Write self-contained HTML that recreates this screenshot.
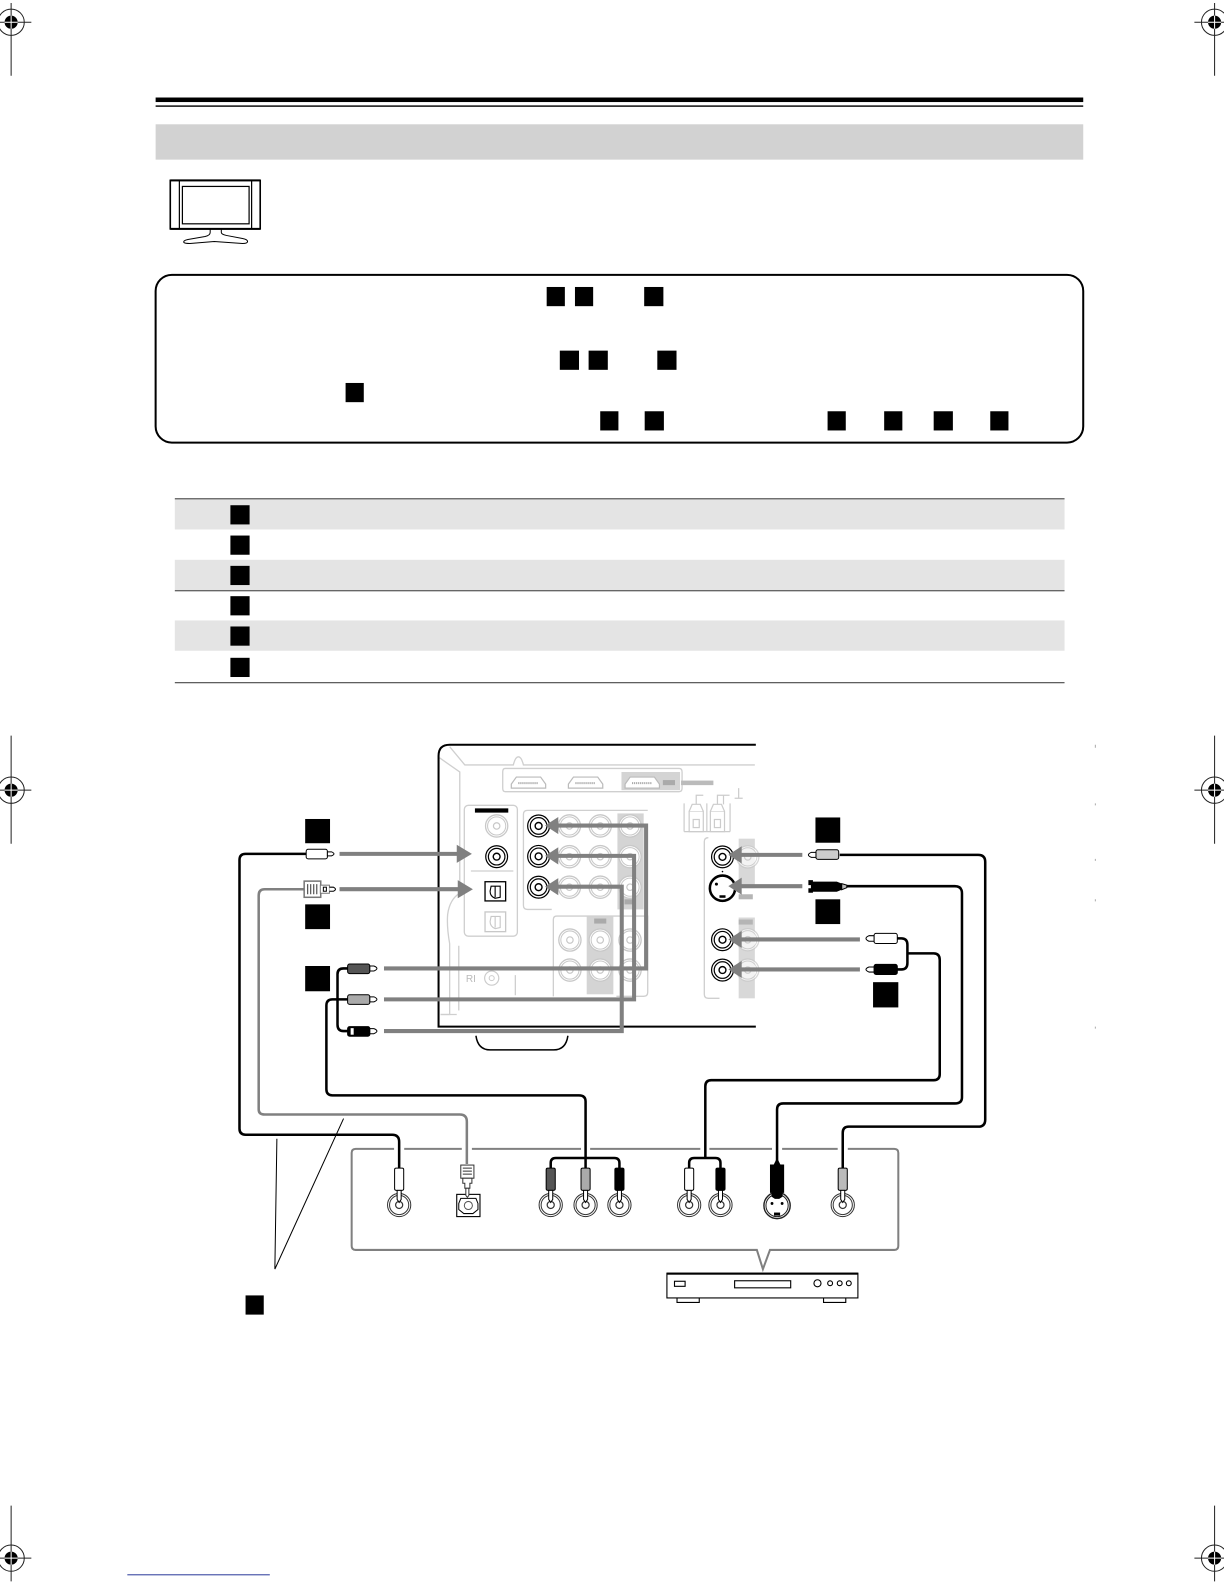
<!DOCTYPE html>
<html><head><meta charset="utf-8"><style>html,body{margin:0;padding:0;background:#fff}svg{display:block}</style></head><body>
<svg xmlns="http://www.w3.org/2000/svg" xmlns:xlink="http://www.w3.org/1999/xlink" width="1224" height="1584" viewBox="0 0 1211.3 1567.6">
<defs>
<g id="crop" fill="none" stroke="#222" stroke-width="1"><circle r="13"/><circle r="6.5" fill="#000" stroke="none"/><path d="M-20,0H20"/><path d="M-6.5,0H6.5M0,-6.5V6.5" stroke="#fff" stroke-width="1"/></g>
<g id="jk" fill="#fff" stroke="#000"><circle r="10.8" stroke-width="1.2"/><circle r="8.2" stroke-width="1.2"/><circle r="3.4" stroke-width="1.4"/></g>
<g id="jl" fill="#fff" stroke="#c8c8c8"><circle r="11" stroke-width="1.3"/><circle r="9" stroke-width="1"/><circle r="3.2" stroke-width="1.2"/></g>
<g id="jb" fill="#fff" stroke="#333"><circle r="11.5" stroke-width="1"/><circle r="9.5" stroke-width="1"/><circle r="3.5" stroke-width="1.2"/></g>
<g id="hd" fill="#fff" stroke="#bbb" stroke-width="1.2"><path d="M0,11V7L5,0H29L34,7V11Z"/><path d="M7,6H27" stroke="#999" stroke-width="2" stroke-dasharray="1 1"/></g>
</defs>

<!-- crop marks -->
<g stroke="#222" stroke-width="1">
<path d="M11,3V75M11,728V835M11,1490V1565M1202,3V75M1202,728V835M1202,1490V1565"/>
</g>
<use xlink:href="#crop" x="11" y="22"/><use xlink:href="#crop" x="1202" y="22"/>
<use xlink:href="#crop" x="11" y="782"/><use xlink:href="#crop" x="1202" y="782"/>
<use xlink:href="#crop" x="11" y="1542"/><use xlink:href="#crop" x="1202" y="1542"/>
<rect x="126" y="1558" width="141" height="1" fill="#2a3a9a"/>
<path d="M1084,737v3M1084,795v2M1084,850v2M1084,890v2M1084,1016v2" stroke="#aaa" stroke-width="1"/>

<!-- header -->
<rect x="154" y="96.5" width="918" height="4.5" fill="#000"/>
<rect x="154" y="104.3" width="918" height="1.4" fill="#000"/>
<rect x="154" y="123" width="918" height="35" fill="#d2d2d2"/>

<!-- TV -->
<g fill="none" stroke="#000">
<rect x="168.5" y="178.5" width="89" height="48" stroke-width="1.6"/>
<path d="M177.5,178.5V226.5M249,178.5V226.5" stroke-width="1.2"/>
<rect x="180.5" y="184.5" width="66" height="37" stroke-width="1.2"/>
<path d="M208,227V230Q208,233 203,234L186,237Q181,238 182,240Q183,241 188,241L212,239L240,241Q245,241 245,239Q245,237 240,236L224,233Q219,232 219,230V227" stroke-width="1"/>
<path d="M168.5,178.5H257.5M168.5,226.5H257.5" stroke-width="2"/>
</g>

<!-- rounded note -->
<rect x="154" y="272" width="918" height="166" rx="16" fill="#fff" stroke="#000" stroke-width="2"/>
<g fill="#000">
<rect x="541" y="284" width="18" height="19"/><rect x="569" y="284" width="18" height="19"/><rect x="637.5" y="284" width="19" height="19"/>
<rect x="554" y="347" width="19" height="19"/><rect x="582.5" y="347" width="19" height="19"/><rect x="650.5" y="347" width="19" height="19"/>
<rect x="342" y="379" width="18" height="19"/>
<rect x="594" y="407" width="18" height="19"/><rect x="638" y="407" width="19" height="19"/><rect x="819" y="407" width="18" height="19"/><rect x="875" y="407" width="18" height="19"/><rect x="924" y="407" width="19" height="19"/><rect x="980" y="407" width="18" height="19"/>
</g>

<!-- table -->
<rect x="173" y="494" width="880.5" height="30" fill="#e4e4e4"/>
<rect x="173" y="554" width="880.5" height="30" fill="#e4e4e4"/>
<rect x="173" y="614" width="880.5" height="30" fill="#e4e4e4"/>
<rect x="173" y="493" width="880.5" height="1.2" fill="#555"/>
<rect x="173" y="584" width="880.5" height="1.2" fill="#555"/>
<rect x="173" y="675" width="880.5" height="1.2" fill="#555"/>
<g fill="#000">
<rect x="228" y="500" width="19" height="19"/><rect x="228" y="530" width="19" height="19"/><rect x="228" y="560" width="19" height="19"/><rect x="228" y="590" width="19" height="19"/><rect x="228" y="620" width="19" height="19"/><rect x="228" y="651" width="19" height="19"/>
</g>

<!-- receiver light details -->
<g fill="none" stroke="#cfcfcf" stroke-width="1.3">
<path d="M445,739L460,757H508Q510,749 513,749Q516,749 518,757H747"/>
<path d="M435,750L455,764V884Q445,890 443,905Q442,917 445,934V1004H436"/>
<path d="M500,760.5H672Q675,760.5 675,764V780Q675,783.5 672,783.5H500Q497.5,783.5 497.5,780V764Q497.5,760.5 500,760.5Z"/>
<rect x="459.5" y="797" width="52.5" height="129.5" rx="4"/>
<path d="M466,862H508"/>
<path d="M641,802H522Q518,802 518,806V896Q518,900 522,900H546"/>
<path d="M547.6,986V910Q547.6,906.6 551,906.6H641"/>
<path d="M641,906V982Q641,986 637,986H610"/>
<path d="M701,829Q697,829 697,833V984Q697,988 701,988H712"/>
<path d="M454,936V1000M510,965V985M436,1004H452"/>
</g>
<rect x="615" y="764" width="58" height="18" fill="#d4d4d4"/>
<rect x="656" y="772" width="12" height="5" fill="#aaa"/>
<rect x="674" y="772.5" width="32" height="4.5" fill="#bbb"/>
<use xlink:href="#hd" x="506" y="769"/><use xlink:href="#hd" x="562.5" y="769"/><use xlink:href="#hd" x="618.6" y="769"/>
<rect x="611" y="805" width="26" height="95" fill="#d4d4d4"/>
<rect x="580.6" y="907" width="26.4" height="77" fill="#d4d4d4"/>
<rect x="731" y="830" width="16" height="49" fill="#d8d8d8"/><rect x="731" y="908" width="16" height="80" fill="#d8d8d8"/>
<rect x="731" y="885" width="14" height="5" fill="#b5b5b5"/><rect x="731" y="910" width="14" height="5" fill="#b5b5b5"/>
<rect x="588" y="909" width="12" height="5" fill="#aaa"/><rect x="618" y="890" width="8" height="5" fill="#aaa"/>
<use xlink:href="#jl" x="491.5" y="817.4"/>
<use xlink:href="#jl" x="563.5" y="817.4"/><use xlink:href="#jl" x="594" y="817.4"/><use xlink:href="#jl" x="623.5" y="817.4"/>
<use xlink:href="#jl" x="563.5" y="847.8"/><use xlink:href="#jl" x="594" y="847.8"/><use xlink:href="#jl" x="623.5" y="847.8"/>
<use xlink:href="#jl" x="563.5" y="878"/><use xlink:href="#jl" x="594" y="878"/><use xlink:href="#jl" x="623.5" y="878"/>
<use xlink:href="#jl" x="564" y="930.3"/><use xlink:href="#jl" x="594" y="930.3"/><use xlink:href="#jl" x="623.5" y="930.3"/>
<use xlink:href="#jl" x="564" y="960"/><use xlink:href="#jl" x="594" y="960"/><use xlink:href="#jl" x="623.5" y="960"/>
<circle cx="486.6" cy="968" r="7" fill="#fff" stroke="#ccc" stroke-width="1.2"/><circle cx="486.6" cy="968" r="2.5" fill="#fff" stroke="#ccc"/>
<use xlink:href="#jl" x="740" y="848" opacity=".7"/><use xlink:href="#jl" x="740" y="930" opacity=".7"/><use xlink:href="#jl" x="740" y="960" opacity=".7"/>
<text x="461" y="972" font-family="Liberation Sans, sans-serif" font-size="10" fill="#bbb">RI</text>
<!-- speaker terminals -->
<g fill="#fff" stroke="#ccc" stroke-width="1.2">
<path d="M677,823V795M699.5,823V795M722.5,823V795M677,823H722.5" fill="none"/>
<rect x="682" y="803" width="14" height="20"/><rect x="703" y="803" width="14" height="20"/>
<path d="M682,803L685,796H693L696,803M703,803L706,796H714L717,803" />
<rect x="686" y="811" width="6" height="8"/><rect x="707" y="811" width="6" height="8"/>
<path d="M689,796V787H696M710,796V787H722M716,787V796M731,780V790M727,790H735" fill="none"/>
</g>
<!-- optical -->
<rect x="480" y="872.6" width="20.4" height="19" fill="#fff" stroke="#000" stroke-width="1.3"/>
<path d="M486,877H495V888L490,889Q485,887 485,882Z M490,877V888" fill="none" stroke="#000" stroke-width="1.1"/>
<rect x="480" y="902.5" width="20.4" height="19.5" fill="#fff" stroke="#c8c8c8" stroke-width="1.3"/>
<path d="M486,907H495V918L490,919Q485,917 485,912Z M490,907V918" fill="none" stroke="#c8c8c8" stroke-width="1.1"/>
<rect x="470" y="800" width="33" height="4.2" fill="#000"/>
<!-- black jacks -->
<use xlink:href="#jk" x="491.5" y="847.8"/>
<use xlink:href="#jk" x="533" y="817.4"/><use xlink:href="#jk" x="533" y="847.5"/><use xlink:href="#jk" x="533" y="878"/>
<use xlink:href="#jk" x="715" y="848"/><use xlink:href="#jk" x="715" y="930"/><use xlink:href="#jk" x="715" y="960"/>
<g><circle cx="715" cy="879" r="12.5" fill="#fff" stroke="#000" stroke-width="2.5"/><circle cx="709" cy="875" r="1.5" fill="#000"/><rect x="712" y="886" width="6" height="2.5" fill="#000"/><circle cx="715" cy="862.5" r=".8" fill="#000"/></g>

<!-- receiver outline -->
<path d="M748,737H445Q434,737 434,748V1016H748" fill="none" stroke="#000" stroke-width="2"/>
<path d="M471,1025Q473,1039 485,1039H548Q560,1039 562,1025" fill="none" stroke="#000" stroke-width="1.5"/>

<!-- grey arrows -->
<g fill="none" stroke="#808080" stroke-width="4">
<path d="M336,845H454"/><path d="M336,880H454"/>
<path d="M380,958.4H639.4V817H550"/>
<path d="M380,989H627.5V847H550"/>
<path d="M380,1020.4H615.3V877.5H550"/>
<path d="M794,846H732"/><path d="M794,877H732"/><path d="M851,929.7H732"/><path d="M851,959.4H732"/>
</g>
<g fill="#808080">
<path d="M467,845L452,836V854Z"/><path d="M468,880L453,871V889Z"/>
<path d="M539.4,817L552.5,808.5V825.5Z"/><path d="M539.4,847L552.5,838.5V855.5Z"/><path d="M539.4,877.5L552.5,869V886Z"/>
<path d="M720.8,846L734,837.5V854.5Z"/><path d="M720.8,877L734,868.5V885.5Z"/><path d="M720.8,929.7L734,921.2V938.2Z"/><path d="M720.8,959.4L734,950.9V967.9Z"/>
</g>

<!-- squares diagram -->
<g fill="#000">
<rect x="302" y="810.5" width="24.6" height="24"/><rect x="302" y="895" width="24.6" height="24.5"/><rect x="302" y="956" width="24.6" height="25"/>
<rect x="807" y="809" width="24.5" height="25"/><rect x="807" y="890" width="24.5" height="24.5"/><rect x="864" y="972" width="25" height="25"/>
<rect x="243" y="1282" width="18" height="19"/>
</g>

<!-- device panel -->
<path d="M352,1137H885Q889,1137 889,1141V1233Q889,1237 885,1237H762L755,1256L749,1237H352Q348,1237 348,1233V1141Q348,1137 352,1137Z" fill="#fff" stroke="#808080" stroke-width="2"/>

<!-- halos at panel line -->
<g fill="#fff"><rect x="390" y="1134" width="10" height="6"/><rect x="457" y="1134" width="10" height="6"/><rect x="575" y="1134" width="9" height="6"/><rect x="693" y="1134" width="9" height="6"/><rect x="764" y="1134" width="10" height="6"/><rect x="829" y="1134" width="10" height="6"/></g>

<!-- cables -->
<g fill="none" stroke="#000" stroke-width="2.5">
<path d="M303,845H243Q237,845 237,851V1117Q237,1123 243,1123H388Q395,1123 395,1130V1156"/>
<path d="M344,958.4H340Q334,958.4 334,964V1014Q334,1020.4 340,1020.4H344"/>
<path d="M344,989H329Q323,989 323,995V1078Q323,1084 329,1084H573Q579.5,1084 579.5,1090V1156"/>
<path d="M831,846H968Q975,846 975,853V1108Q975,1115 968,1115H840Q834,1115 834,1121V1156"/>
<path d="M838,877H945Q952,877 952,884V1086Q952,1092 945,1092H775Q769,1092 769,1098V1150"/>
<path d="M888,928.7H892Q898,928.7 898,935V953Q898,959.4 892,959.4H888M898,943.5H924Q930,943.5 930,950V1063Q930,1069 924,1069H704Q698,1069 698,1075V1146"/>
<path d="M545,1156V1151Q545,1146 550,1146H608Q613,1146 613,1151V1156"/>
<path d="M682,1156V1151Q682,1146 687,1146H708Q713,1146 713,1151V1156"/>
</g>
<path d="M301,880H262Q256,880 256,886V1098Q256,1103 262,1103H455Q462,1103 462,1110V1152" fill="none" stroke="#808080" stroke-width="2.5"/>

<!-- leader -->
<path d="M274,1127L272,1256M340,1107L272,1256" fill="none" stroke="#000" stroke-width="1"/>

<!-- left plugs -->
<g stroke="#000" stroke-width="1">
<rect x="303" y="840.5" width="21" height="9.5" rx="2" fill="#fff"/><path d="M324,843H328Q333,845 328,847H324Z" fill="#fff"/>
<g fill="#fff" stroke="#777"><rect x="301" y="872" width="16.4" height="16" stroke-width="1.5"/><path d="M304.5,875V885M307.5,875V885M310.5,875V885M313.5,875V885" stroke="#333"/><rect x="317" y="876" width="9" height="8"/><rect x="320" y="878" width="3" height="4" stroke="#000"/><path d="M326,878H330Q334,880 330,882H326" stroke="#000"/></g>
<rect x="344" y="954" width="22" height="9.5" rx="2" fill="#555"/><path d="M366,956H370Q376,958.4 370,961H366Z" fill="#fff"/>
<rect x="344" y="984.5" width="22" height="9.5" rx="2" fill="#aaa"/><path d="M366,986.5H370Q376,989 370,991.5H366Z" fill="#fff"/>
<rect x="344" y="1016" width="22" height="9.5" rx="2" fill="#000"/><path d="M366,1018H370Q376,1020.4 370,1023H366Z" fill="#fff"/>
<rect x="347" y="1017.5" width="3" height="6.5" fill="#fff" stroke="none"/>
<!-- right plugs -->
<rect x="807.5" y="841" width="22.5" height="9.5" rx="2" fill="#ccc"/><path d="M807.5,843.5H803Q797,846 803,848.5H807.5Z" fill="#fff"/>
<path d="M800.5,871.5H804V873H828L833,875V880L828,882H804V883H800.5V879.5H803V875.5H800.5Z" fill="#000"/><path d="M833,874.5L838,876V878.5L833,880.5Z" fill="#bbb"/>
<rect x="865" y="923.7" width="23" height="10" rx="2" fill="#fff"/><path d="M865,926H860Q854,928.7 860,931.5H865Z" fill="#fff"/>
<rect x="865" y="954.4" width="23" height="10" rx="2" fill="#000"/><path d="M865,957H860Q854,959.4 860,962H865Z" fill="#fff"/>
</g>

<!-- bottom jacks -->
<use xlink:href="#jb" x="395" y="1192.5"/>
<use xlink:href="#jb" x="545" y="1192.5"/><use xlink:href="#jb" x="579.5" y="1192.5"/><use xlink:href="#jb" x="613" y="1192.5"/>
<use xlink:href="#jb" x="682" y="1192.5"/><use xlink:href="#jb" x="713" y="1192.5"/>
<use xlink:href="#jb" x="834" y="1192.5"/>
<rect x="452" y="1182" width="23" height="22" fill="#fff" stroke="#000" stroke-width="1.1"/>
<path d="M456,1186H471L473,1191V1197L468,1201H459L454,1197V1191Z" fill="#fff" stroke="#000" stroke-width="1"/><circle cx="463.5" cy="1193" r="4" fill="none" stroke="#555"/>
<g><circle cx="769" cy="1193" r="13" fill="#fff" stroke="#222" stroke-width="1.4"/><circle cx="769" cy="1193" r="11" fill="none" stroke="#222" stroke-width="1"/><circle cx="764" cy="1191" r="1.4" fill="#000"/><circle cx="774" cy="1191" r="1.4" fill="#000"/><rect x="766" y="1200" width="6" height="3" fill="#000"/></g>

<!-- bottom plugs -->
<g stroke="#000" stroke-width="1">
<rect x="390.5" y="1156" width="9" height="22" rx="1.5" fill="#fff"/><path d="M393,1178H397V1187L395,1190L393,1187Z" fill="#fff"/>
<rect x="540.5" y="1156" width="9" height="22" rx="1.5" fill="#555"/><path d="M543,1178H547V1187L545,1190L543,1187Z" fill="#fff"/>
<rect x="575" y="1156" width="9" height="22" rx="1.5" fill="#aaa"/><path d="M577.5,1178H581.5V1187L579.5,1190L577.5,1187Z" fill="#fff"/>
<rect x="608.5" y="1156" width="9" height="22" rx="1.5" fill="#000"/><path d="M611,1178H615V1187L613,1190L611,1187Z" fill="#fff"/>
<rect x="677.5" y="1156" width="9" height="22" rx="1.5" fill="#fff"/><path d="M680,1178H684V1187L682,1190L680,1187Z" fill="#fff"/>
<rect x="708.5" y="1156" width="9" height="22" rx="1.5" fill="#000"/><path d="M711,1178H715V1187L713,1190L711,1187Z" fill="#fff"/>
<rect x="829.5" y="1156" width="9" height="22" rx="1.5" fill="#bbb"/><path d="M832,1178H836V1187L834,1190L832,1187Z" fill="#fff"/>
<path d="M769,1147L772,1153H775.5V1180H762.5V1153H766Z" fill="#000"/><path d="M764,1180H774V1184L771,1186H767L764,1184Z" fill="#000"/>
<g fill="#fff" stroke="#333"><rect x="456" y="1153" width="13" height="13"/><path d="M458,1156H467M458,1159H467M458,1162H467"/><path d="M458,1166H467V1171H465V1176H460V1171H458Z"/><path d="M461,1176H464V1183L462.5,1185L461,1183Z"/></g>
</g>

<!-- player -->
<g fill="#fff" stroke="#000" stroke-width="1.1">
<rect x="660" y="1260" width="189" height="24.5"/>
<rect x="667.5" y="1268" width="10.5" height="5"/>
<rect x="727" y="1267.5" width="55.5" height="7"/>
<circle cx="809" cy="1270" r="3.5"/><circle cx="821.5" cy="1270" r="2.4"/><circle cx="831" cy="1270" r="2.4"/><circle cx="840" cy="1270" r="2.4"/>
<path d="M670,1285V1289H692V1285M815,1285V1289H837V1285"/>
</g>
<rect x="660" y="1259.5" width="189" height="2" fill="#000"/>
</svg>
</body></html>
